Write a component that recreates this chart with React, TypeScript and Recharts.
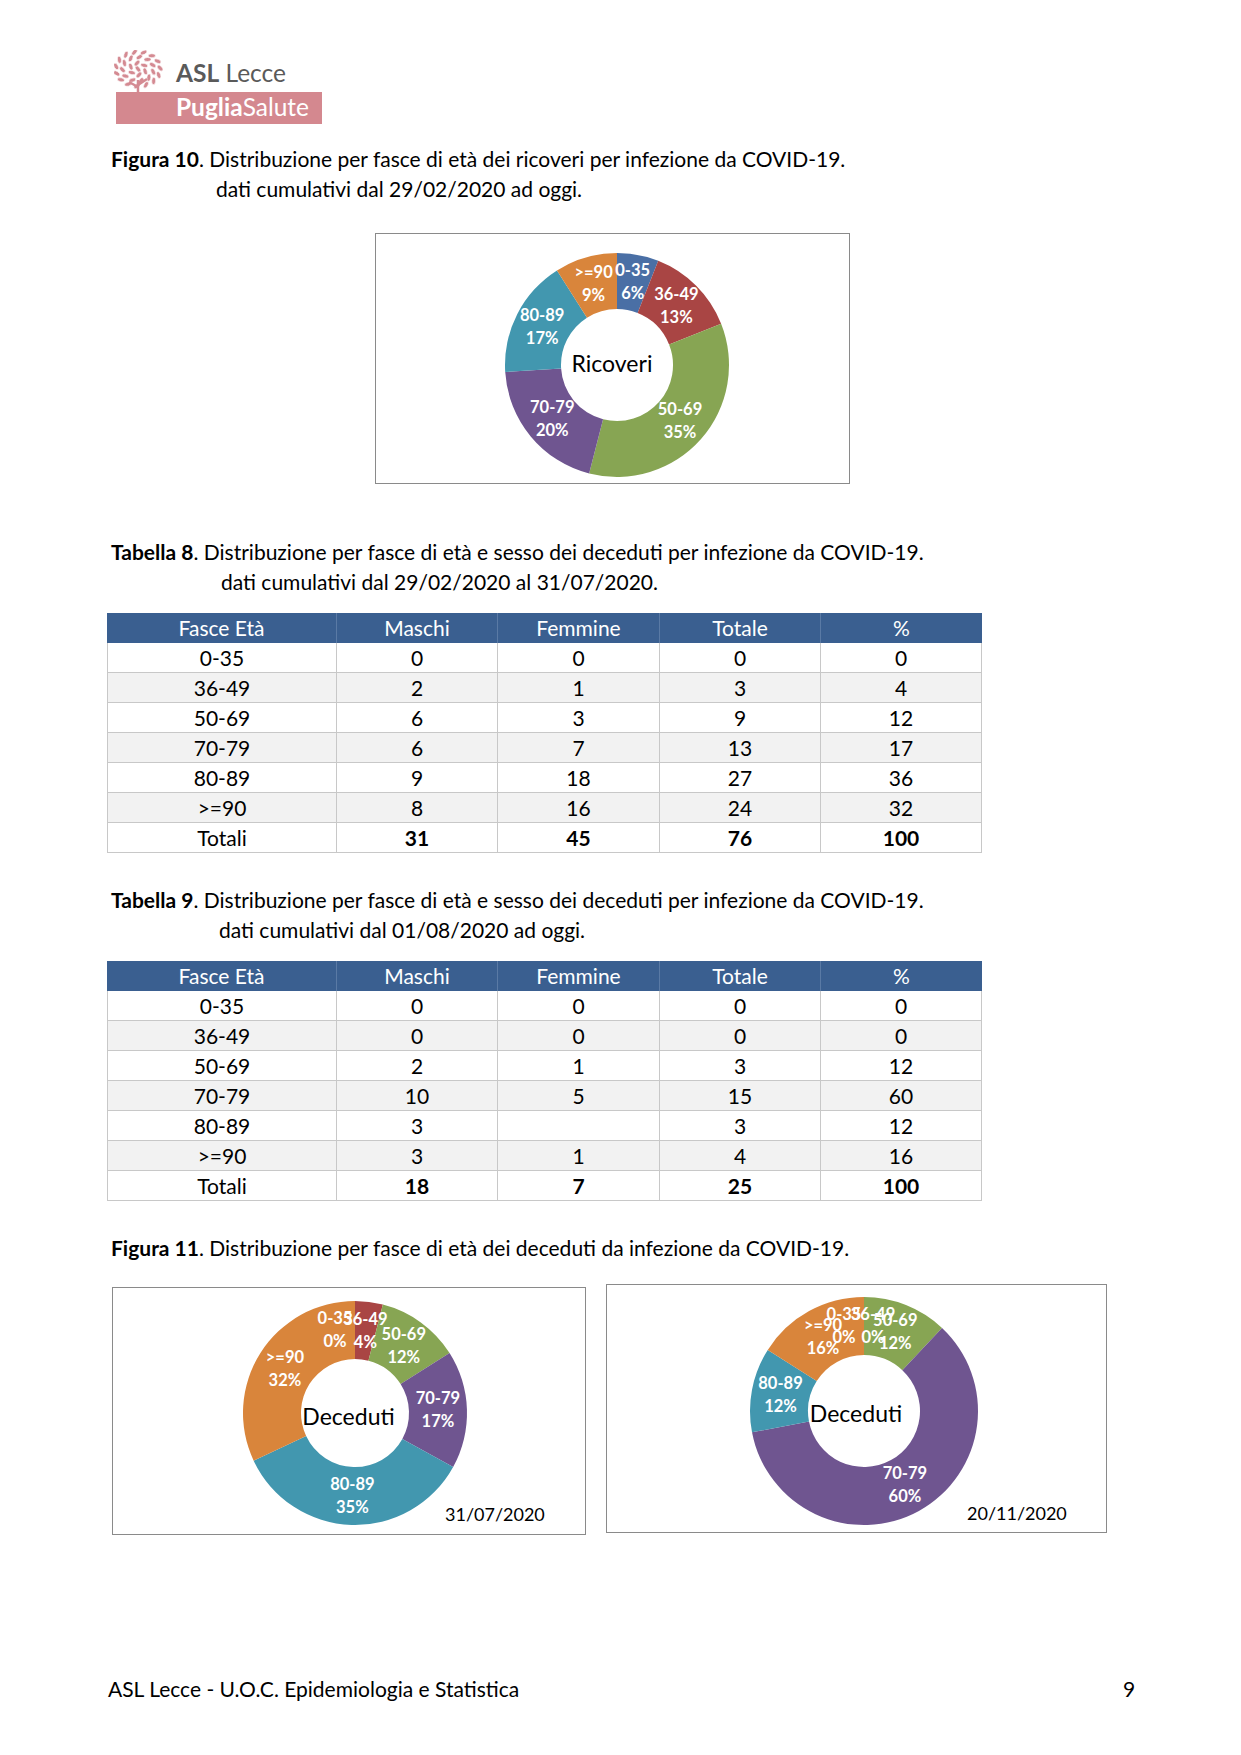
import React from "react";
import { PieChart, Pie, Cell, Label } from "recharts";

// age bands shared by every chart and table
const fasce = ["0-35", "36-49", "50-69", "70-79", "80-89", ">=90"];

// donut percentages as printed on the slices
const ricoveriPct = [6, 13, 35, 20, 17, 9];
const decedutiLugPct = [0, 4, 12, 17, 35, 32];
const decedutiNovPct = [0, 0, 12, 60, 12, 16];

const sliceColors = ["#4A6FA5", "#A94544", "#87A553", "#6F5590", "#4297AF", "#D9853B"];

// Tabella 8
const tab8Maschi = [0, 2, 6, 6, 9, 8];
const tab8Femmine = [0, 1, 3, 7, 18, 16];
const tab8Totale = [0, 3, 9, 13, 27, 24];
const tab8Perc = [0, 4, 12, 17, 36, 32];
const tab8Totali = [31, 45, 76, 100];

// Tabella 9
const tab9Maschi = [0, 0, 2, 10, 3, 3];
const tab9Femmine: (number | null)[] = [0, 0, 1, 5, null, 1];
const tab9Totale = [0, 0, 3, 15, 3, 4];
const tab9Perc = [0, 0, 12, 60, 12, 16];
const tab9Totali = [18, 7, 25, 100];

const headers = ["Fasce Età", "Maschi", "Femmine", "Totale", "%"];
const colWidths = [230, 161, 162, 161, 161];

const FONT = "Lato, 'Open Sans', sans-serif";
const TXT = 21;

const toSlices = (values: number[]) => fasce.map((name, i) => ({ name, value: values[i] }));

function sliceLabel(props: any) {
  const { cx, cy, midAngle, innerRadius, outerRadius, index } = props;
  const name = props.payload?.name ?? props.name;
  const value = props.payload?.value ?? props.value;
  const RAD = Math.PI / 180;
  const r = (innerRadius + outerRadius) / 2;
  let x = cx + r * Math.cos(-midAngle * RAD);
  const y = cy + r * Math.sin(-midAngle * RAD);
  // empty slices sit on top of each other, spread them a bit like Excel does
  if (value === 0) x += index === 0 ? -20 : 9;
  return (
    <text fill="#fff" textAnchor="middle" fontFamily={FONT} fontWeight={700} fontSize={16.5}>
      <tspan x={x} y={y - 6}>{name}</tspan>
      <tspan x={x} y={y + 17}>{value}%</tspan>
    </text>
  );
}

function Donut(p: { values: number[]; title: string; w: number; h: number; cx: number; cy: number; inner: number; outer: number }) {
  return (
    <PieChart width={p.w} height={p.h} margin={{ top: 0, right: 0, bottom: 0, left: 0 }}>
      <Pie
        data={toSlices(p.values)}
        dataKey="value"
        nameKey="name"
        cx={p.cx}
        cy={p.cy}
        innerRadius={p.inner}
        outerRadius={p.outer}
        startAngle={90}
        endAngle={-270}
        stroke="none"
        label={sliceLabel}
        labelLine={false}
        isAnimationActive={false}
      >
        {p.values.map((_, i) => (
          <Cell key={i} fill={sliceColors[i]} />
        ))}
        <Label value={p.title} position="center" dy={6} fill="#000" fontSize={23} fontFamily={FONT} />
      </Pie>
    </PieChart>
  );
}

function Table(p: { top: number; maschi: number[]; femmine: (number | null)[]; totale: number[]; perc: number[]; totali: number[] }) {
  const rows = fasce.map((f, i) => [f, p.maschi[i], p.femmine[i], p.totale[i], p.perc[i]]);
  const cell = (w: number, extra: React.CSSProperties = {}): React.CSSProperties => ({
    width: w,
    boxSizing: "border-box",
    textAlign: "center",
    lineHeight: "30px",
    height: 30,
    ...extra,
  });
  const rowStyle = (bg: string): React.CSSProperties => ({
    display: "flex",
    background: bg,
    borderBottom: "1px solid #C8C8C8",
    borderLeft: "1px solid #C8C8C8",
    borderRight: "1px solid #C8C8C8",
    height: 30,
    boxSizing: "border-box",
  });
  return (
    <div style={{ position: "absolute", left: 107, top: p.top, width: 875, fontFamily: FONT, fontSize: TXT, color: "#000" }}>
      <div style={{ display: "flex", background: "#3A5F90", color: "#fff" }}>
        {headers.map((h, i) => (
          <div key={h} style={cell(colWidths[i], { borderRight: i < 4 ? "1px solid #5a7aa5" : "none" })}>
            {h}
          </div>
        ))}
      </div>
      {rows.map((r, ri) => (
        <div key={ri} style={rowStyle(ri % 2 === 1 ? "#F2F2F2" : "#fff")}>
          {r.map((v, ci) => (
            <div key={ci} style={cell(colWidths[ci] - (ci === 0 || ci === 4 ? 1 : 0), { borderRight: ci < 4 ? "1px solid #C8C8C8" : "none", height: 29, lineHeight: "29px" })}>
              {v === null ? "" : v}
            </div>
          ))}
        </div>
      ))}
      <div style={rowStyle("#fff")}>
        {["Totali", ...p.totali].map((v, ci) => (
          <div key={ci} style={cell(colWidths[ci] - (ci === 0 || ci === 4 ? 1 : 0), { borderRight: ci < 4 ? "1px solid #C8C8C8" : "none", fontWeight: ci > 0 ? 700 : 400, height: 29, lineHeight: "29px" })}>
            {v}
          </div>
        ))}
      </div>
    </div>
  );
}

function Line(p: { x: number; y: number; bold?: string; text: string; size?: number }) {
  return (
    <div style={{ position: "absolute", left: p.x, top: p.y - 15, lineHeight: "30px", fontFamily: FONT, fontSize: p.size ?? TXT, color: "#000", whiteSpace: "nowrap" }}>
      {p.bold && <b>{p.bold}</b>}
      {p.text}
    </div>
  );
}

function Logo() {
  const leaves: JSX.Element[] = [];
  const rings = [
    { r: 0, n: 1 },
    { r: 6, n: 6 },
    { r: 12, n: 11 },
    { r: 17, n: 15 },
  ];
  rings.forEach((ring, k) =>
    Array.from({ length: ring.n }).forEach((_, j) => {
      const a = (j / ring.n) * Math.PI * 2 + k * 0.4;
      const x = 24 + ring.r * 1.3 * Math.cos(a);
      const y = 19 + ring.r * Math.sin(a);
      leaves.push(
        <ellipse key={k + "-" + j} cx={x} cy={y} rx={3.6} ry={2} transform={`rotate(${(a * 180) / Math.PI + 50} ${x} ${y})`} fill="#D48A92" stroke="#fff" strokeWidth={0.6} />
      );
    })
  );
  return (
    <>
      <svg style={{ position: "absolute", left: 114, top: 50 }} width={50} height={44}>
        {leaves}
        <path d="M24 30 L24 44 M24 37 L15 32 M24 35 L33 29" stroke="#D48A92" strokeWidth={2.5} fill="none" />
      </svg>
      <div style={{ position: "absolute", left: 176, top: 59, fontFamily: FONT, fontSize: 24.5, color: "#5a5a5a", lineHeight: "28px" }}>
        <b>ASL</b> Lecce
      </div>
      <div style={{ position: "absolute", left: 116, top: 92, width: 206, height: 32, background: "#D4888F" }}>
        <div style={{ position: "absolute", left: 60, top: 1, fontFamily: FONT, fontSize: 24.5, color: "#fff", lineHeight: "28px" }}>
          <b>Puglia</b>Salute
        </div>
      </div>
    </>
  );
}

const boxStyle = (l: number, t: number, w: number, h: number): React.CSSProperties => ({
  position: "absolute",
  left: l,
  top: t,
  width: w,
  height: h,
  border: "1.5px solid #8a8a8a",
  boxSizing: "border-box",
  background: "#fff",
});

export default function App() {
  return (
    <div style={{ position: "absolute", left: 0, top: 0, width: 1241, height: 1755, background: "#fff", overflow: "hidden" }}>
      <Logo />

      <Line x={111} y={159} bold="Figura 10" text=". Distribuzione per fasce di età dei ricoveri per infezione da COVID-19." />
      <Line x={216} y={189} text="dati cumulativi dal 29/02/2020 ad oggi." />

      <div style={boxStyle(375, 233, 475, 251)}>
        <Donut values={ricoveriPct} title="Ricoveri" w={472} h={248} cx={241} cy={131} inner={56} outer={112} />
      </div>

      <Line x={111} y={552} bold="Tabella 8" text=". Distribuzione per fasce di età e sesso dei deceduti per infezione da COVID-19." />
      <Line x={221} y={582} text="dati cumulativi dal 29/02/2020 al 31/07/2020." />
      <Table top={613} maschi={tab8Maschi} femmine={tab8Femmine} totale={tab8Totale} perc={tab8Perc} totali={tab8Totali} />

      <Line x={111} y={900} bold="Tabella 9" text=". Distribuzione per fasce di età e sesso dei deceduti per infezione da COVID-19." />
      <Line x={219} y={930} text="dati cumulativi dal 01/08/2020 ad oggi." />
      <Table top={961} maschi={tab9Maschi} femmine={tab9Femmine} totale={tab9Totale} perc={tab9Perc} totali={tab9Totali} />

      <Line x={111} y={1248} bold="Figura 11" text=". Distribuzione per fasce di età dei deceduti da infezione da COVID-19." />

      <div style={boxStyle(112, 1287, 474, 248)}>
        <Donut values={decedutiLugPct} title="Deceduti" w={471} h={245} cx={242} cy={125} inner={54} outer={112} />
        <div style={{ position: "absolute", left: 332, top: 211, fontFamily: FONT, fontSize: 18, lineHeight: "30px" }}>31/07/2020</div>
      </div>

      <div style={boxStyle(606, 1284, 501, 249)}>
        <Donut values={decedutiNovPct} title="Deceduti" w={498} h={246} cx={257} cy={126} inner={56} outer={114} />
        <div style={{ position: "absolute", left: 360, top: 213, fontFamily: FONT, fontSize: 18, lineHeight: "30px" }}>20/11/2020</div>
      </div>

      <Line x={108} y={1689} text="ASL Lecce - U.O.C. Epidemiologia e Statistica" />
      <Line x={1123} y={1689} text="9" />
    </div>
  );
}
